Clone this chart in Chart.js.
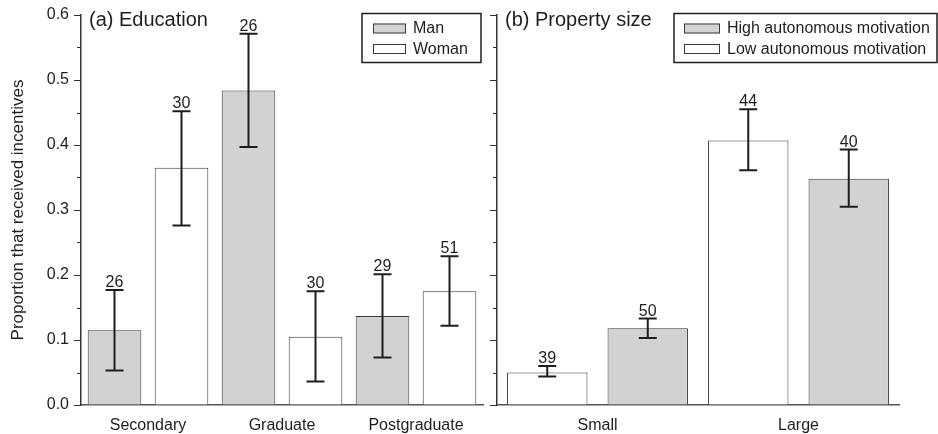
<!DOCTYPE html>
<html>
<head>
<meta charset="utf-8">
<script src="https://cdn.jsdelivr.net/npm/chart.js@4/dist/chart.umd.min.js"></script>
<style>
  html,body{margin:0;padding:0;background:#fff;}
  #wrap{position:relative;width:938px;height:434px;overflow:hidden;}
  #c1{position:absolute;left:0;top:0;}
  #c2{position:absolute;left:490px;top:0;}
</style>
</head>
<body>
<div id="wrap">
<canvas id="c1" width="490" height="434"></canvas>
<canvas id="c2" width="448" height="434"></canvas>
</div>
<script>
// ---- Data: panel (a) Education ----
const eduCategories = ['Secondary', 'Graduate', 'Postgraduate'];
const eduMan = [0.115, 0.484, 0.137];
const eduManLow = [0.053, 0.397, 0.073];
const eduManHigh = [0.177, 0.571, 0.201];
const eduManN = ['26', '26', '29'];
const eduWoman = [0.365, 0.105, 0.175];
const eduWomanLow = [0.276, 0.036, 0.122];
const eduWomanHigh = [0.452, 0.175, 0.229];
const eduWomanN = ['30', '30', '51'];

// ---- Data: panel (b) Property size ----
const sizeCategories = ['Small', 'Large'];
const lowMot = [0.050, 0.407];
const lowMotLow = [0.044, 0.361];
const lowMotHigh = [0.060, 0.455];
const lowMotN = ['39', '44'];
const highMot = [0.118, 0.348];
const highMotLow = [0.103, 0.305];
const highMotHigh = [0.133, 0.393];
const highMotN = ['50', '40'];

const yMin = 0, yMax = 0.6, yMajorStep = 0.1, yMinorStep = 0.05;
const yTitle = 'Proportion that received incentives';

const FONT = '"Liberation Sans", Arial, Helvetica, sans-serif';
const GRAY = '#d1d2d4';
const EDGE = '#3a3a3a';
const INK = '#1e1e1e';

const errorBarPlugin = {
  id: 'errbars',
  afterDatasetsDraw(chart) {
    const ctx = chart.ctx;
    const y = chart.scales.y;
    chart.data.datasets.forEach((ds, di) => {
      const meta = chart.getDatasetMeta(di);
      meta.data.forEach((bar, i) => {
        const x = bar.x;
        const yl = y.getPixelForValue(ds.errLow[i]);
        const yh = y.getPixelForValue(ds.errHigh[i]);
        ctx.save();
        ctx.strokeStyle = INK;
        ctx.lineWidth = 2;
        ctx.beginPath();
        ctx.moveTo(x, yl); ctx.lineTo(x, yh);
        ctx.moveTo(x - 9, yl); ctx.lineTo(x + 9, yl);
        ctx.moveTo(x - 9, yh); ctx.lineTo(x + 9, yh);
        ctx.stroke();
        ctx.fillStyle = INK;
        ctx.font = '16px ' + FONT;
        ctx.textAlign = 'center';
        ctx.textBaseline = 'alphabetic';
        ctx.fillText(ds.nLabels[i], x, yh - 3);
        ctx.restore();
      });
    });
  }
};

// minor y ticks (between the labelled major ticks)
const minorTickPlugin = {
  id: 'minorTicks',
  afterDraw(chart) {
    const ctx = chart.ctx;
    const y = chart.scales.y;
    const x0 = chart.chartArea.left;
    ctx.save();
    ctx.strokeStyle = '#333';
    ctx.lineWidth = 1;
    ctx.beginPath();
    const n = Math.round((yMax - yMin) / yMinorStep);
    for (let k = 1; k < n; k += 2) {
      const py = Math.round(y.getPixelForValue(yMin + k * yMinorStep)) + 0.5;
      ctx.moveTo(x0 - 4, py); ctx.lineTo(x0, py);
    }
    ctx.stroke();
    ctx.restore();
  }
};

const panelPlugin = {
  id: 'panel',
  afterDraw(chart, args, opts) {
    const ctx = chart.ctx;
    const area = chart.chartArea;
    ctx.save();
    ctx.fillStyle = INK;
    ctx.font = '20px ' + FONT;
    ctx.textAlign = 'left';
    ctx.textBaseline = 'alphabetic';
    ctx.fillText(opts.title, area.left + opts.titleDx, 26);
    // legend box
    const bx = opts.box[0], by = opts.box[1], bw = opts.box[2], bh = opts.box[3];
    ctx.fillStyle = '#fff';
    ctx.fillRect(bx, by, bw, bh);
    ctx.strokeStyle = INK;
    ctx.lineWidth = 1.5;
    ctx.strokeRect(bx, by, bw, bh);
    opts.order.forEach((di, k) => {
      const ds = chart.data.datasets[di];
      const sy = by + 10 + k * 20.5;
      ctx.fillStyle = ds.backgroundColor;
      ctx.fillRect(bx + opts.swX, sy, opts.swW, 10);
      ctx.strokeStyle = EDGE;
      ctx.lineWidth = 1;
      ctx.strokeRect(bx + opts.swX + 0.5, sy + 0.5, opts.swW - 1, 9);
      ctx.fillStyle = INK;
      ctx.font = '16px ' + FONT;
      ctx.textBaseline = 'middle';
      ctx.fillText(ds.label, bx + opts.swX + opts.swW + 7, sy + 5.5);
    });
    ctx.restore();
  }
};

function makeOptions(showLabels, yWidth, padRight, panelOpts) {
  return {
    responsive: false,
    animation: false,
    devicePixelRatio: 1,
    layout: { padding: { left: 0, right: padRight, top: 15, bottom: 0 } },
    plugins: {
      legend: { display: false },
      tooltip: { enabled: false },
      panel: panelOpts
    },
    datasets: { bar: { categoryPercentage: 1.0, barPercentage: 0.8 } },
    scales: {
      x: {
        grid: { display: false },
        border: { display: true, color: '#555', width: 1.5 },
        ticks: { color: INK, font: { family: FONT, size: 16 }, padding: 3 },
        afterFit(s) { s.height = 29; }
      },
      y: {
        min: yMin, max: yMax,
        ticks: { display: showLabels, stepSize: yMajorStep, color: INK, font: { family: FONT, size: 16 }, padding: 5,
                 callback: (v) => v.toFixed(1), autoSkip: false },
        grid: { display: true, drawOnChartArea: false, drawTicks: true, tickLength: 7, color: '#333', lineWidth: 1 },
        border: { display: true, color: '#333', width: 1.5 },
        title: showLabels ? { display: true, text: yTitle, color: INK, font: { family: FONT, size: 17 }, padding: { top: 8, bottom: 0 } } : { display: false },
        afterFit(s) { s.width = yWidth; }
      }
    }
  };
}

new Chart(document.getElementById('c1'), {
  type: 'bar',
  data: {
    labels: eduCategories,
    datasets: [
      { label: 'Man', data: eduMan, errLow: eduManLow, errHigh: eduManHigh, nLabels: eduManN,
        backgroundColor: GRAY, borderColor: EDGE, borderWidth: 1 },
      { label: 'Woman', data: eduWoman, errLow: eduWomanLow, errHigh: eduWomanHigh, nLabels: eduWomanN,
        backgroundColor: '#ffffff', borderColor: EDGE, borderWidth: 1 }
    ]
  },
  options: makeOptions(true, 81, 7, { title: '(a) Education', titleDx: 8, box: [362, 13.5, 119, 49], swX: 11, swW: 33, order: [0, 1] }),
  plugins: [errorBarPlugin, minorTickPlugin, panelPlugin]
});

new Chart(document.getElementById('c2'), {
  type: 'bar',
  data: {
    labels: sizeCategories,
    datasets: [
      { label: 'Low autonomous motivation', data: lowMot, errLow: lowMotLow, errHigh: lowMotHigh, nLabels: lowMotN,
        backgroundColor: '#ffffff', borderColor: EDGE, borderWidth: 1 },
      { label: 'High autonomous motivation', data: highMot, errLow: highMotLow, errHigh: highMotHigh, nLabels: highMotN,
        backgroundColor: GRAY, borderColor: EDGE, borderWidth: 1 }
    ]
  },
  options: makeOptions(false, 7, 39, { title: '(b) Property size', titleDx: 8, box: [184, 13.5, 263, 49], swX: 10, swW: 36, order: [1, 0] }),
  plugins: [errorBarPlugin, minorTickPlugin, panelPlugin]
});
</script>
</body>
</html>
